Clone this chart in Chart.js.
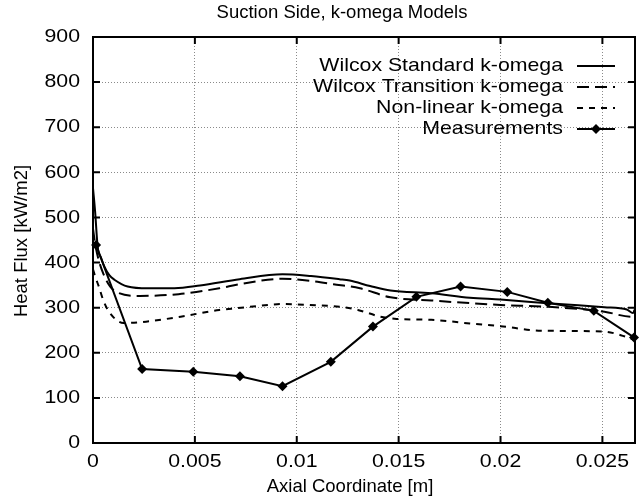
<!DOCTYPE html>
<html>
<head>
<meta charset="utf-8">
<script src="https://cdn.jsdelivr.net/npm/chart.js@4.4.1/dist/chart.umd.min.js"></script>
<style>
  html, body { margin: 0; padding: 0; background: #fff; }
  canvas { display: block; }
</style>
</head>
<body>
<canvas id="chart" width="642" height="504"></canvas>
<script>
// Suction side heat flux, three k-omega model variants vs. measurements
const stdX  = [0, 0.0001, 0.00023, 0.0004, 0.00056, 0.0008, 0.00105, 0.0017, 0.0027, 0.004, 0.00525, 0.0072, 0.0093, 0.0107, 0.0121, 0.0126, 0.0136, 0.0146, 0.0166, 0.0185, 0.0200, 0.0223, 0.0251, 0.0262, 0.0265, 0.02663];
const stdY  = [565, 515, 435, 410, 391, 372, 362, 347, 343, 343, 349, 363, 374, 370, 363, 360, 348, 338, 332, 322, 318, 310, 301, 296, 288, 300];

const transX = [0, 0.00013, 0.0005, 0.0011, 0.0023, 0.0042, 0.0062, 0.0072, 0.0093, 0.0105, 0.0118, 0.0131, 0.0146, 0.0166, 0.0185, 0.0200, 0.0223, 0.0251, 0.0264, 0.02663];
const transY = [475, 435, 376, 336, 326, 330, 343, 352, 364, 360, 352, 343, 323, 316, 310, 306, 302, 291, 280, 298];

const nlX = [0, 0.0001, 0.0003, 0.0005, 0.0008, 0.0015, 0.0026, 0.0043, 0.0062, 0.0071, 0.0086, 0.0093, 0.01065, 0.0121, 0.0130, 0.0141, 0.0149, 0.0166, 0.0185, 0.0200, 0.0220, 0.0251, 0.0259, 0.0266];
const nlY = [385, 370, 345, 317, 290, 266, 269, 280, 295, 299, 306, 308, 306, 302, 295, 280, 275, 273, 265, 259, 249, 247, 239, 228];

const measX = [0.00015, 0.00241, 0.00492, 0.00721, 0.00930, 0.01167, 0.01374, 0.01587, 0.01804, 0.02033, 0.02232, 0.02458, 0.02655];
const measY = [439, 164, 158, 148, 126, 180, 258, 324, 347, 335, 311, 293, 234];

const seriesNames = ['Wilcox Standard k-omega', 'Wilcox Transition k-omega', 'Non-linear k-omega', 'Measurements'];
const xTickValues = [0, 0.005, 0.01, 0.015, 0.02, 0.025];
const xTickLabels = ['0', '0.005', '0.01', '0.015', '0.02', '0.025'];
const yTickValues = [0, 100, 200, 300, 400, 500, 600, 700, 800, 900];

const FONT = '"Liberation Sans", Arial, Helvetica, sans-serif';
const LABEL_FS = 19;     // tick labels and key
const LABEL_SX = 1.12;   // slightly wide lettering
const TITLE_FS = 18.5;

const pts = (xs, ys) => xs.map((x, i) => ({ x: x, y: ys[i] }));

function wideText(ctx, text, x, y, align) {
  ctx.save();
  ctx.translate(x, y);
  ctx.scale(LABEL_SX, 1);
  ctx.textAlign = align;
  ctx.textBaseline = 'middle';
  ctx.fillText(text, 0, 0);
  ctx.restore();
}

// Gnuplot-like frame: full box, inward tick marks, labels, titles and a right-aligned key
const decor = {
  id: 'decor',
  afterDraw(chart) {
    const ctx = chart.ctx;
    const a = chart.chartArea;
    const xs = chart.scales.x, ys = chart.scales.y;
    ctx.save();
    ctx.strokeStyle = '#000';
    ctx.lineWidth = 2;
    ctx.setLineDash([]);
    ctx.strokeRect(a.left, a.top, a.right - a.left, a.bottom - a.top);
    const tl = 7;
    ctx.beginPath();
    xs.ticks.forEach(t => {
      const px = xs.getPixelForValue(t.value);
      ctx.moveTo(px, a.bottom); ctx.lineTo(px, a.bottom - tl);
      ctx.moveTo(px, a.top); ctx.lineTo(px, a.top + tl);
    });
    ys.ticks.forEach(t => {
      const py = ys.getPixelForValue(t.value);
      ctx.moveTo(a.left, py); ctx.lineTo(a.left + tl, py);
      ctx.moveTo(a.right, py); ctx.lineTo(a.right - tl, py);
    });
    ctx.stroke();

    ctx.fillStyle = '#000';
    // tick labels
    ctx.font = LABEL_FS + 'px ' + FONT;
    xs.ticks.forEach((t, i) => {
      wideText(ctx, xTickLabels[i], xs.getPixelForValue(t.value), a.bottom + 19, 'center');
    });
    ys.ticks.forEach(t => {
      wideText(ctx, String(t.value), a.left - 13, ys.getPixelForValue(t.value), 'right');
    });

    // titles
    ctx.font = TITLE_FS + 'px ' + FONT;
    ctx.textAlign = 'center';
    ctx.textBaseline = 'middle';
    ctx.fillText('Suction Side, k-omega Models', 342, 13);
    ctx.fillText('Axial Coordinate [m]', 350, 487);
    ctx.save();
    ctx.translate(22, 241);
    ctx.rotate(-Math.PI / 2);
    ctx.fillText('Heat Flux [kW/m2]', 0, 0);
    ctx.restore();

    // key
    ctx.font = LABEL_FS + 'px ' + FONT;
    const textRight = 563, lx0 = 577, lx1 = 615;
    const rowY = [66, 87, 108, 129];
    chart.data.datasets.forEach((ds, i) => {
      const y = rowY[i];
      wideText(ctx, ds.label, textRight, y, 'right');
      ctx.save();
      ctx.strokeStyle = ds.borderColor;
      ctx.lineWidth = ds.borderWidth;
      ctx.setLineDash(ds.borderDash || []);
      ctx.beginPath();
      ctx.moveTo(lx0, y); ctx.lineTo(lx1, y);
      ctx.stroke();
      ctx.restore();
      if (ds.pointRadius > 0) {
        const r = ds.pointRadius;
        const cx = (lx0 + lx1) / 2;
        ctx.beginPath();
        ctx.moveTo(cx, y - r); ctx.lineTo(cx + r, y); ctx.lineTo(cx, y + r); ctx.lineTo(cx - r, y);
        ctx.closePath();
        ctx.fill();
      }
    });
    ctx.restore();
  }
};

const baseLine = {
  borderColor: '#000',
  backgroundColor: '#000',
  borderWidth: 2,
  pointRadius: 0,
  fill: false,
  tension: 0.35,
  cubicInterpolationMode: 'monotone'
};

new Chart(document.getElementById('chart'), {
  type: 'line',
  data: {
    datasets: [
      Object.assign({}, baseLine, { label: seriesNames[0], data: pts(stdX, stdY) }),
      Object.assign({}, baseLine, { label: seriesNames[1], data: pts(transX, transY), borderDash: [12, 6] }),
      Object.assign({}, baseLine, { label: seriesNames[2], data: pts(nlX, nlY), borderDash: [6, 6] }),
      Object.assign({}, baseLine, {
        label: seriesNames[3], data: pts(measX, measY), tension: 0,
        cubicInterpolationMode: 'default',
        pointStyle: 'rectRot', pointRadius: 5, pointBorderWidth: 0, clip: 8
      })
    ]
  },
  options: {
    responsive: false,
    animation: false,
    events: [],
    layout: { padding: { top: 37, right: 7, left: 0, bottom: 0 } },
    plugins: { legend: { display: false }, title: { display: false }, tooltip: { enabled: false } },
    scales: {
      x: {
        type: 'linear',
        min: 0,
        max: 0.0266,
        afterFit(s) { s.height = 61; },
        afterBuildTicks(s) { s.ticks = xTickValues.map(v => ({ value: v })); },
        ticks: { display: false },
        grid: { color: '#8a8a8a', lineWidth: 1, drawTicks: false },
        border: { display: false, dash: [1, 2] }
      },
      y: {
        min: 0,
        max: 900,
        afterFit(s) { s.width = 93; },
        afterBuildTicks(s) { s.ticks = yTickValues.map(v => ({ value: v })); },
        ticks: { display: false },
        grid: { color: '#8a8a8a', lineWidth: 1, drawTicks: false },
        border: { display: false, dash: [1, 2] }
      }
    }
  },
  plugins: [decor]
});
</script>
</body>
</html>
